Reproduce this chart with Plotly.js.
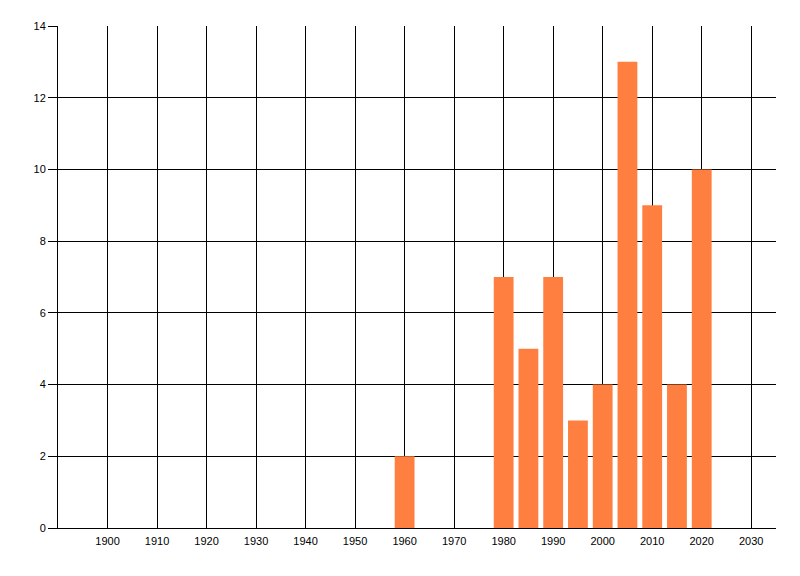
<!DOCTYPE html>
<html>
<head>
<meta charset="utf-8">
<script src="https://cdn.plot.ly/plotly-3.0.1.min.js"></script>
<style>html,body{margin:0;padding:0;background:#fff;}#chart{width:800px;height:576px;}</style>
</head>
<body>
<div id="chart"></div>
<script>
const years = [1960, 1980, 1985, 1990, 1995, 2000, 2005, 2010, 2015, 2020];
const counts = [2, 7, 5, 7, 3, 4, 13, 9, 4, 10];
const xTicks = [1900, 1910, 1920, 1930, 1940, 1950, 1960, 1970, 1980, 1990, 2000, 2010, 2020, 2030];
const yTicks = [0, 2, 4, 6, 8, 10, 12, 14];

const trace = {
  type: 'bar',
  x: years,
  y: counts,
  width: 4,
  marker: {color: '#FF7F40', line: {width: 0}},
  hoverinfo: 'x+y'
};

const layout = {
  width: 800,
  height: 576,
  margin: {l: 58, r: 24, t: 26, b: 48, pad: 0},
  paper_bgcolor: '#fff',
  plot_bgcolor: '#fff',
  showlegend: false,
  font: {family: 'Liberation Sans, Arial, sans-serif', size: 11, color: '#000'},
  xaxis: {
    range: [1890, 2035],
    tickvals: xTicks,
    ticktext: xTicks.map(String),
    showgrid: true,
    gridcolor: '#000',
    gridwidth: 1,
    zeroline: false,
    showline: true,
    linecolor: '#000',
    linewidth: 1,
    ticks: 'outside',
    ticklen: 3,
    tickcolor: 'rgba(0,0,0,0)',
    tickfont: {size: 11, color: '#000'}
  },
  yaxis: {
    range: [0, 14],
    tickvals: yTicks,
    ticktext: yTicks.map(String),
    showgrid: true,
    gridcolor: '#000',
    gridwidth: 1,
    zeroline: false,
    showline: true,
    linecolor: '#000',
    linewidth: 1,
    ticks: 'outside',
    ticklen: 9,
    tickcolor: '#000',
    tickwidth: 1,
    tickfont: {size: 11, color: '#000'}
  }
};

Plotly.newPlot('chart', [trace], layout, {displayModeBar: false, staticPlot: true});
</script>
</body>
</html>
